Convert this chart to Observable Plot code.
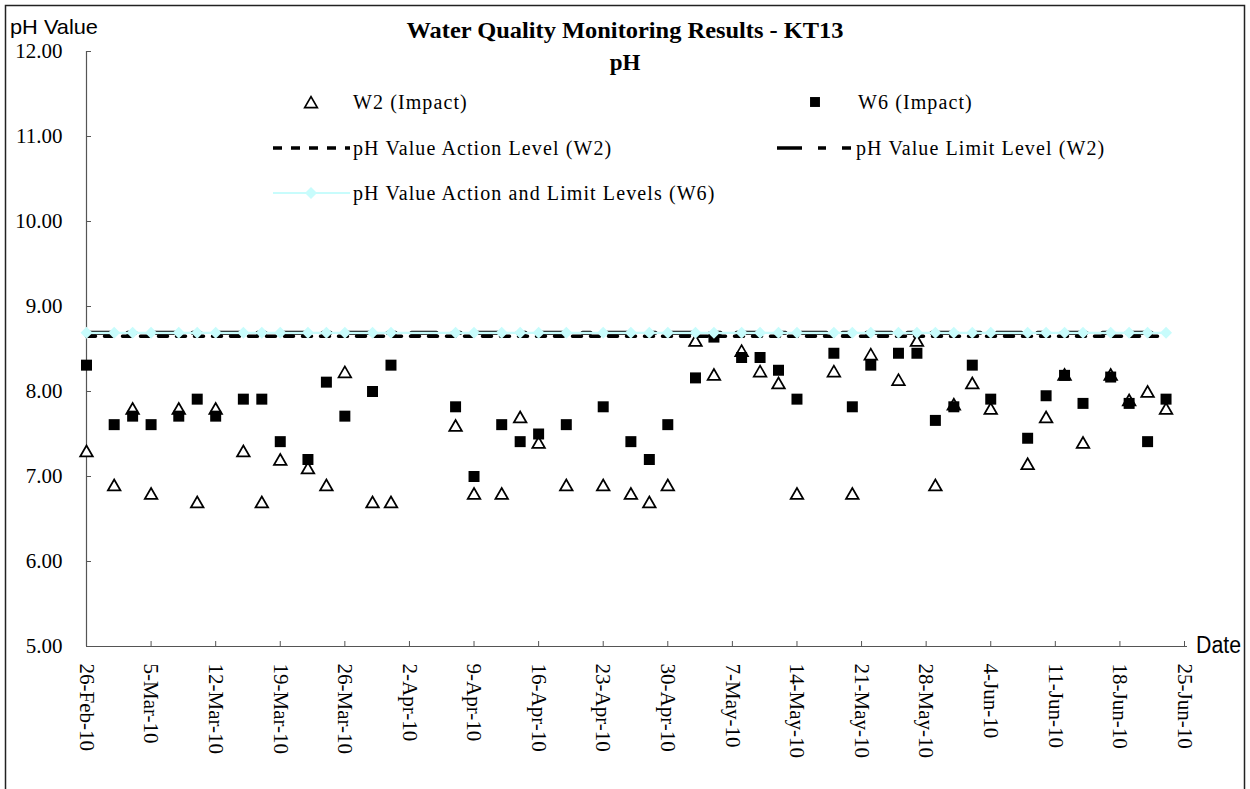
<!DOCTYPE html>
<html>
<head>
<meta charset="utf-8">
<script src="https://cdn.jsdelivr.net/npm/d3@7"></script>
<script src="https://cdn.jsdelivr.net/npm/@observablehq/plot@0.6"></script>
<style>
  html, body { margin: 0; padding: 0; background: #fff; }
  #chart svg { display: block; }
</style>
</head>
<body>
<div id="chart"></div>
<script>
// ---------------- data ----------------
const sampleDates = [
  "2010-02-26","2010-03-01","2010-03-03","2010-03-05","2010-03-08","2010-03-10","2010-03-12","2010-03-15",
  "2010-03-17","2010-03-19","2010-03-22","2010-03-24","2010-03-26","2010-03-29","2010-03-31","2010-04-07",
  "2010-04-09","2010-04-12","2010-04-14","2010-04-16","2010-04-19","2010-04-23","2010-04-26","2010-04-28",
  "2010-04-30","2010-05-03","2010-05-05","2010-05-08","2010-05-10","2010-05-12","2010-05-14","2010-05-18",
  "2010-05-20","2010-05-22","2010-05-25","2010-05-27","2010-05-29","2010-05-31","2010-06-02","2010-06-04",
  "2010-06-08","2010-06-10","2010-06-12","2010-06-14","2010-06-17","2010-06-19","2010-06-21","2010-06-23"
];
const w2Values = [
  7.30, 6.90, 7.80, 6.80, 7.80, 6.70, 7.80, 7.30,
  6.70, 7.20, 7.10, 6.90, 8.23, 6.70, 6.70, 7.60,
  6.80, 6.80, 7.70, 7.40, 6.90, 6.90, 6.80, 6.70,
  6.90, 8.60, 8.20, 8.48, 8.24, 8.10, 6.80, 8.24,
  6.80, 8.44, 8.14, 8.60, 6.90, 7.85, 8.10, 7.80,
  7.15, 7.70, 8.20, 7.40, 8.20, 7.90, 8.00, 7.80
];
const w6Values = [
  8.31, 7.61, 7.71, 7.61, 7.71, 7.91, 7.71, 7.91,
  7.91, 7.41, 7.20, 8.11, 7.71, 8.00, 8.31, 7.82,
  7.00, 7.61, 7.41, 7.50, 7.61, 7.82, 7.41, 7.20,
  7.61, 8.16, 8.64, 8.40, 8.40, 8.25, 7.91, 8.45,
  7.82, 8.31, 8.45, 8.45, 7.66, 7.82, 8.31, 7.91,
  7.45, 7.95, 8.19, 7.86, 8.17, 7.86, 7.41, 7.91
];
const w2ActionLevel = 8.65;
const w2LimitLevel = 8.69;
const w6ActionLimitLevel = 8.69;

const xTickDates = [
  "2010-02-26","2010-03-05","2010-03-12","2010-03-19","2010-03-26","2010-04-02","2010-04-09","2010-04-16",
  "2010-04-23","2010-04-30","2010-05-07","2010-05-14","2010-05-21","2010-05-28","2010-06-04","2010-06-11",
  "2010-06-18","2010-06-25"
];
const yTickValues = [5, 6, 7, 8, 9, 10, 11, 12];

const titleText = "Water Quality Monitoring Results - KT13";
const subtitleText = "pH";
const yLabelText = "pH Value";
const xLabelText = "Date";
const legendLabels = [
  "W2 (Impact)", "W6 (Impact)",
  "pH Value Action Level (W2)", "pH Value Limit Level (W2)",
  "pH Value Action and Limit Levels (W6)"
];

// ---------------- build ----------------
const parse = d3.utcParse("%Y-%m-%d");
const rows = sampleDates.map((d, i) => ({date: parse(d), w2: w2Values[i], w6: w6Values[i]}));
const xt = xTickDates.map(parse);
const xStart = xt[0], xEnd = xt[xt.length - 1];

const serif = "'Liberation Serif','Times New Roman',serif";
const narrow = "'Liberation Sans Narrow','Arial Narrow','Liberation Sans',Arial,sans-serif";
const axisColor = "#555";
const cyan = "#c8fcfc";
const triR = 4.7;

const plot = Plot.plot({
  width: 1250,
  height: 789,
  marginLeft: 86,
  marginRight: 66,
  marginTop: 51,
  marginBottom: 143,
  style: {fontFamily: serif, background: "white", overflow: "visible"},
  x: {type: "utc", domain: [xStart, xEnd]},
  y: {domain: [5, 12]},
  marks: [
    Plot.axisY(yTickValues, {tickSize: 0, tickPadding: 24, tickFormat: d3.format(".2f"), fontSize: 21, label: null, fill: "black"}),
    Plot.axisX(xt, {tickSize: 0, tickPadding: 17, tickRotate: 90, tickFormat: d3.utcFormat("%-d-%b-%y"), fontSize: 21, label: null, fill: "black"}),
    Plot.ruleY(yTickValues, {x1: xStart, x2: xStart, insetRight: -5, stroke: axisColor}),
    Plot.ruleX(xt, {y1: 5, y2: 5, insetTop: -5, stroke: axisColor}),
    Plot.ruleX([xStart], {y1: 5, y2: 12, stroke: axisColor, strokeWidth: 1.2}),
    Plot.ruleY([5], {x1: xStart, x2: xEnd, insetRight: -3, stroke: axisColor, strokeWidth: 1.2}),
    Plot.dot(rows, {x: "date", y: "w2", symbol: "triangle", r: triR, dy: 1.8, stroke: "black", strokeWidth: 1.7, fill: "white"}),
    Plot.dot(rows, {x: "date", y: "w6", symbol: "square", r: 6.2, fill: "black", stroke: "none"}),
    Plot.lineY(rows, {x: "date", y: () => w2ActionLevel, stroke: "black", strokeWidth: 3.5, strokeDasharray: "9,9"}),
    Plot.lineY(rows, {x: "date", y: () => w2LimitLevel, stroke: "black", strokeWidth: 4, strokeDasharray: "25,16,8,16"}),
    Plot.lineY(rows, {x: "date", y: () => w6ActionLimitLevel, stroke: cyan, strokeWidth: 2.2}),
    Plot.dot(rows, {x: "date", y: () => w6ActionLimitLevel, symbol: "diamond2", r: 5.4, fill: cyan, stroke: "none"})
  ]
});

document.getElementById("chart").appendChild(plot);
const svg = d3.select(plot);
svg.selectAll("[aria-label='x-axis tick-label'] text").style("letter-spacing", "1.6px");
svg.selectAll("[aria-label='y-axis tick-label'] text").style("letter-spacing", "1.4px");

// frame
svg.append("rect").attr("x", 5.5).attr("y", 5.5).attr("width", 1239).attr("height", 800)
  .attr("fill", "none").attr("stroke", "#222").attr("stroke-width", 1.5);

// titles
svg.append("text").attr("x", 625).attr("y", 38).attr("text-anchor", "middle")
  .attr("font-family", serif).attr("font-weight", "bold").attr("font-size", 23)
  .attr("textLength", 437).attr("lengthAdjust", "spacingAndGlyphs").text(titleText);
svg.append("text").attr("x", 625).attr("y", 70).attr("text-anchor", "middle")
  .attr("font-family", serif).attr("font-weight", "bold").attr("font-size", 23).text(subtitleText);

// axis titles
svg.append("text").attr("x", 10).attr("y", 34).attr("text-anchor", "start").attr("font-family", narrow).attr("font-size", 21)
  .attr("textLength", 88).attr("lengthAdjust", "spacingAndGlyphs").text(yLabelText);
svg.append("text").attr("x", 1196).attr("y", 653).attr("text-anchor", "start").attr("font-family", narrow).attr("font-size", 23)
  .attr("textLength", 45).attr("lengthAdjust", "spacingAndGlyphs").text(xLabelText);

// legend
const lg = svg.append("g").attr("font-family", serif).attr("font-size", 20).attr("text-anchor", "start").style("letter-spacing", "1.1px");
const sym = (type, r) => d3.symbol(type, Math.PI * r * r)();
// row 1
lg.append("path").attr("d", sym(d3.symbolTriangle, triR)).attr("transform", "translate(311,104)")
  .attr("fill", "white").attr("stroke", "black").attr("stroke-width", 1.7);
lg.append("text").attr("x", 353).attr("y", 109).text(legendLabels[0]);
lg.append("path").attr("d", sym(d3.symbolSquare, 5.6)).attr("transform", "translate(815,102)").attr("fill", "black");
lg.append("text").attr("x", 858).attr("y", 109).text(legendLabels[1]);
// row 2
lg.append("line").attr("x1", 273).attr("x2", 350).attr("y1", 148).attr("y2", 148)
  .attr("stroke", "black").attr("stroke-width", 3.5).attr("stroke-dasharray", "9,9");
lg.append("text").attr("x", 353).attr("y", 155).text(legendLabels[2]);
lg.append("line").attr("x1", 777).attr("x2", 851).attr("y1", 148).attr("y2", 148)
  .attr("stroke", "black").attr("stroke-width", 3.5).attr("stroke-dasharray", "25,16,8,16");
lg.append("text").attr("x", 856).attr("y", 155).text(legendLabels[3]);
// row 3
lg.append("line").attr("x1", 273).attr("x2", 350).attr("y1", 193).attr("y2", 193)
  .attr("stroke", cyan).attr("stroke-width", 2.2);
lg.append("path").attr("d", sym(d3.symbolDiamond2, 5.4)).attr("transform", "translate(311,193)").attr("fill", cyan);
lg.append("text").attr("x", 353).attr("y", 200).text(legendLabels[4]);
</script>
</body>
</html>
